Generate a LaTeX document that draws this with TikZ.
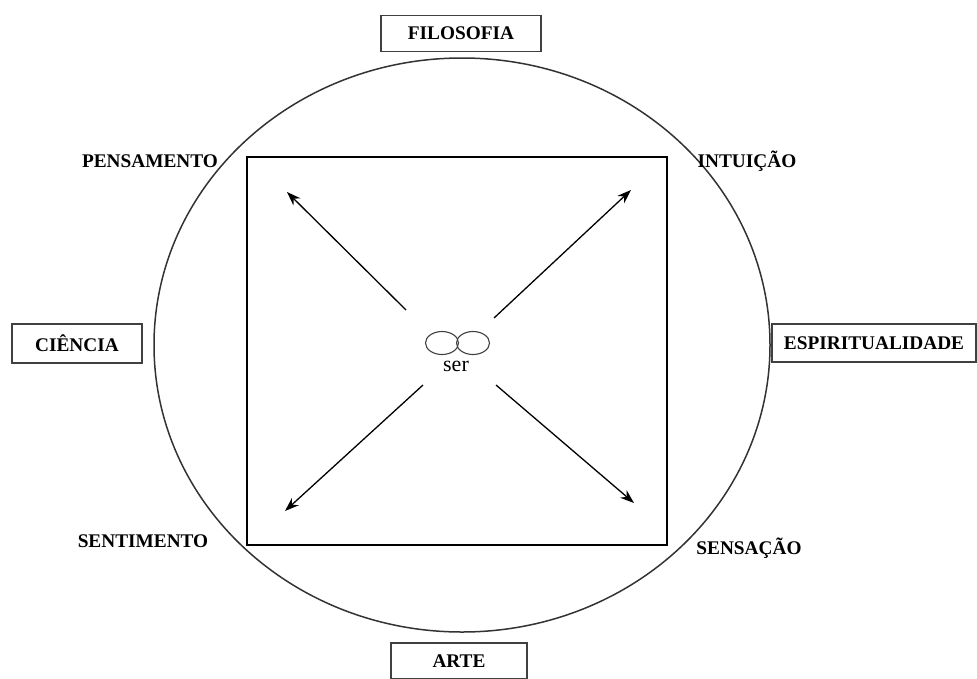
\documentclass[tikz,border=0pt]{standalone}
\usepackage{fontspec}
\setmainfont{Liberation Serif}
\usetikzlibrary{arrows.meta,shapes.geometric}
\begin{document}
\begin{tikzpicture}[x=1pt,y=-1pt,
  labeltext/.style={font=\fontsize{19.3}{21}\selectfont\bfseries, inner sep=0pt},
  framebox/.style={labeltext, draw=black!75, line width=1.2pt, inner sep=0pt},
  loop/.style={draw=black!75, line width=1.1pt, ellipse, minimum width=33pt, minimum height=23pt, inner sep=0pt},
  ray/.style={line width=1.3pt, -{Stealth[length=14pt,width=10pt]}}
]
\useasboundingbox (0,0) rectangle (977,678);

% outer ring and inner frame
\draw[black!80, line width=1.5pt] (462,345) ellipse [x radius=308, y radius=287];
\draw[black, line width=1.2pt] (247,157) rectangle (667,545);

% boxed domains
\node[framebox, minimum width=160pt, minimum height=36pt] (filo) at (461,33.5) {FILOSOFIA};
\node[framebox, minimum width=136pt, minimum height=36pt] (arte) at (459,661) {ARTE};
\node[framebox, minimum width=130pt, minimum height=39pt] (cien) at (77,343.5) {CIÊNCIA};
\node[framebox, minimum width=204pt, minimum height=38pt] (espi) at (874,343) {ESPIRITUALIDADE};

% functions around the frame
\node[labeltext] (pens) at (150,161) {PENSAMENTO};
\node[labeltext] (intu) at (747,161) {INTUIÇÃO};
\node[labeltext] (sent) at (143,541) {SENTIMENTO};
\node[labeltext] (sens) at (749,548) {SENSAÇÃO};

% the being at the centre
\node[loop] (serl) at (442,343) {};
\node[loop] (serr) at (473,343) {};
\node[font=\fontsize{22}{23}\selectfont, inner sep=0pt] (ser) at (456,366) {ser};

% rays
\coordinate (ul0) at (406,310);
\coordinate (ur0) at (494,318);
\coordinate (ll0) at (423,385);
\coordinate (lr0) at (496,385);
\coordinate (ul1) at (287,192);
\coordinate (ur1) at (631,190);
\coordinate (ll1) at (285,511);
\coordinate (lr1) at (634,503);
\draw[ray] (ul0) -- (ul1);
\draw[ray] (ur0) -- (ur1);
\draw[ray] (ll0) -- (ll1);
\draw[ray] (lr0) -- (lr1);
\end{tikzpicture}
\end{document}
